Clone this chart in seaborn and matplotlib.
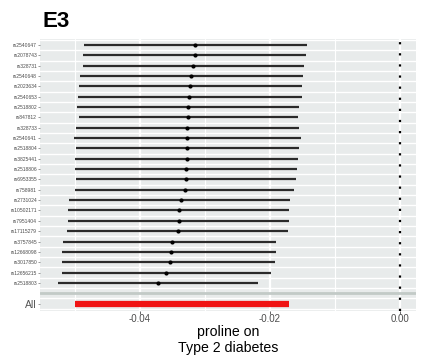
import numpy as np
import pandas as pd
import matplotlib
matplotlib.use("Agg")
import matplotlib.pyplot as plt
import seaborn as sns

# SNP-level Wald ratio estimates with 95% confidence limits
snps = ["rs2540647", "rs2078743", "rs328731", "rs2540648", "rs2023634",
        "rs2540653", "rs2518802", "rs847812", "rs328733", "rs2540641",
        "rs2518804", "rs3825441", "rs2518806", "rs6953355", "rs758981",
        "rs2731024", "rs10502171", "rs7951404", "rs17115279", "rs3757845",
        "rs12668098", "rs3017850", "rs12656215", "rs2518803"]
estimate = [-0.0315, -0.0315, -0.0318, -0.0322, -0.0323, -0.0324, -0.0326,
            -0.0326, -0.0327, -0.0327, -0.0327, -0.0328, -0.0329, -0.0329,
            -0.0331, -0.0337, -0.0340, -0.0340, -0.0342, -0.0351, -0.0352,
            -0.0354, -0.0360, -0.0372]
ci_low = [-0.0486, -0.0488, -0.0488, -0.0493, -0.0494, -0.0496, -0.0497,
          -0.0494, -0.0498, -0.0502, -0.0499, -0.0500, -0.0500, -0.0499,
          -0.0500, -0.0509, -0.0511, -0.0511, -0.0512, -0.0519, -0.0520,
          -0.0520, -0.0520, -0.0527]
ci_high = [-0.0143, -0.0144, -0.0148, -0.0149, -0.0151, -0.0151, -0.0155,
           -0.0157, -0.0155, -0.0152, -0.0155, -0.0157, -0.0158, -0.0160,
           -0.0163, -0.0169, -0.0171, -0.0171, -0.0172, -0.0191, -0.0191,
           -0.0192, -0.0198, -0.0218]

# Pooled (all SNPs) confidence interval
all_label = "All"
all_low = -0.0500
all_high = -0.0170

x_ticks = [-0.04, -0.02, 0.00]
x_tick_labels = ["-0.04", "-0.02", "0.00"]
x_minor = [-0.05, -0.03, -0.01]

df = pd.DataFrame({"snp": snps, "est": estimate, "lo": ci_low, "hi": ci_high})
df["row"] = np.arange(1, len(df) + 1)
sep_row = len(df) + 1
all_row = len(df) + 2

sns.set_theme(style="white")
plt.rcParams["font.family"] = ["Liberation Sans", "DejaVu Sans"]

fig = plt.figure(figsize=(4.22, 3.61), dpi=100)
ax = fig.add_axes([40 / 422, 1 - 311 / 361, 376 / 422, 272 / 361])
ax.set_facecolor("#E8EBEB")

# grid: major and minor vertical lines, white separators between rows
for xv in x_ticks:
    ax.axvline(xv, color="white", lw=1.6, zorder=1)
for xv in x_minor:
    ax.axvline(xv, color="white", lw=0.8, zorder=1)
for yv in np.arange(0.5, all_row + 1, 1.0):
    ax.axhline(yv, color="white", lw=1.0, zorder=1)
ax.axhline(sep_row, color="#C2CAC7", lw=2.0, zorder=2)

# null line
ax.axvline(0, color="black", lw=1.6, linestyle=(0, (1, 4)), zorder=3)

# confidence intervals and point estimates
ax.hlines(df["row"], df["lo"], df["hi"], color="#2B2B2B", lw=1.6, zorder=4)
sns.scatterplot(data=df, x="est", y="row", ax=ax, color="black", s=9,
                linewidth=0, zorder=5, legend=False)
ax.hlines([all_row], [all_low], [all_high], color="#F01414", lw=4.5, zorder=4)

ax.set_xlim(-0.0554, 0.0025)
ax.set_ylim(all_row + 0.72, 0.42)

ax.set_xticks(x_ticks)
ax.set_xticklabels(x_tick_labels)
ax.set_yticks(list(df["row"]) + [all_row])
ax.set_yticklabels(snps + [all_label])
ax.tick_params(axis="x", labelsize=7, colors="#4D4D4D", length=2.0,
               width=0.6, pad=0.5, bottom=True)
ax.tick_params(axis="y", labelsize=3.6, colors="#4D4D4D", length=1.2,
               width=0.4, pad=1.0, left=True)
for lab in ax.get_yticklabels():
    if lab.get_text() == all_label:
        lab.set_fontsize(7.5)
        lab.set_color("#555555")
for s in ax.spines.values():
    s.set_visible(False)

ax.set_xlabel("proline on\nType 2 diabetes", fontsize=10.2, color="black",
              labelpad=0.5, linespacing=1.2)
ax.set_ylabel("")

fig.text(43 / 422, 1 - 27 / 361, "E3", fontsize=16, fontweight="bold",
         color="black", ha="left", va="baseline")

fig.savefig("out.png", dpi=100)
